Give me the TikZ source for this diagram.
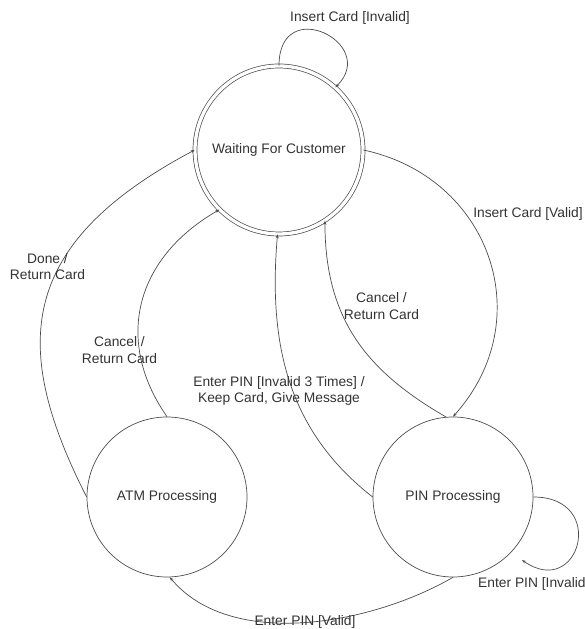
\documentclass[tikz,border=0pt]{standalone}
\usepackage{fontspec}
\setmainfont{Liberation Sans}
\usetikzlibrary{arrows.meta}
\newcommand\lblfont{\fontsize{13.8}{16.5}\selectfont}
\definecolor{linecol}{gray}{0.3}
\definecolor{txtcol}{gray}{0.2}
\begin{document}
\begin{tikzpicture}[x=1pt,y=1pt,
  state/.style={circle, draw=linecol, line width=0.7pt, minimum size=160pt,
    inner sep=0pt, font=\lblfont, text=txtcol},
  tr/.style={draw=linecol, line width=0.7pt, -{Stealth[length=4pt,width=3pt]}},
  lbl/.style={font=\lblfont, text=txtcol, inner sep=0pt}]
\useasboundingbox (0,0) rectangle (585,629);
\node[state, double, double distance=3.3pt, minimum size=168pt] (W) at (279,479) {Waiting For Customer};
\node[state] (A) at (167,132) {ATM Processing};
\node[state] (P) at (453,132) {PIN Processing};
\coordinate (pe) at (522,69);

\draw[tr] (W.90) .. controls +(90:72) and +(45:62) .. (W.48);
\draw[tr] (W.0) .. controls +(-12:130) and +(48:130) .. (P.90);
\draw[tr] (P.95) .. controls +(150:90) and +(-90:100) .. (W.-57);
\draw[tr] (P.180) .. controls +(142:100) and +(-95:120) .. (W.-91);
\draw[tr] (A.90) .. controls +(125:90) and +(-150:100) .. (W.-135);
\draw[tr] (A.180) .. controls +(117:170) and +(-152:200) .. (W.180);
\draw[tr] (P.-90) .. controls +(-150:95) and +(-50:95) .. (A.-88);
\draw[tr] (P.0) .. controls +(0:75) and +(-35:70) .. (pe);

\node[lbl] (l1) at (350,611.5) {Insert Card [Invalid]};
\node[lbl] (l2) at (528,415.5) {Insert Card [Valid]};
\node[lbl, align=center] (l3) at (381.5,323) {Cancel /\\Return Card};
\node[lbl, align=center] (l4) at (279,238) {Enter PIN [Invalid 3 Times] /\\Keep Card, Give Message};
\node[lbl, align=center] (l5) at (119.5,279) {Cancel /\\Return Card};
\node[lbl, align=center] (l6) at (47.5,362.5) {Done /\\Return Card};
\node[lbl, anchor=base] (l7) at (305,3) {Enter PIN [Valid]};
\node[lbl, anchor=base west] (l8) at (478,41) {Enter PIN [Invalid};
\end{tikzpicture}
\end{document}
